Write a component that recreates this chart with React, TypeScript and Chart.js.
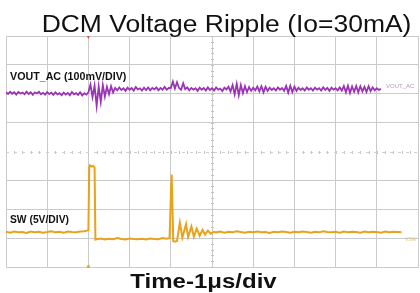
import React, { useEffect, useRef } from "react";
import { Chart, registerables } from "chart.js";

Chart.register(...registerables);

const TITLE = "DCM Voltage Ripple (Io=30mA)";
const X_CAPTION = "Time-1μs/div";
const VOUT_LABEL = "VOUT_AC (100mV/DIV)";
const SW_LABEL = "SW (5V/DIV)";
const VOUT_TAG = "VOUT_AC";
const SW_TAG = "VSW";

// time axis: 10 divisions (1 µs/div), vertical: 8 divisions
const X_MIN = 0;
const X_MAX = 10;
const Y_MIN = -4;
const Y_MAX = 4;

// VOUT_AC trace, one sample every 0.05 div, in divisions
const VOUT_STEP = 0.05;
const VOUT = [
  2.05, 1.99, 2.07, 2.0, 2.05, 1.97, 2.06, 2.01, 2.04, 1.98,
  2.07, 1.99, 2.05, 1.96, 2.05, 2.01, 2.07, 1.98, 2.03, 1.97,
  2.06, 1.99, 2.04, 1.96, 2.05, 1.98, 2.02, 1.95, 2.04, 1.97,
  2.03, 1.95, 2.06, 1.98, 2.02, 1.96, 2.05, 1.94, 2.02, 1.97,
  2.05, 2.32, 1.88, 2.28, 1.58, 2.25, 1.72, 2.3, 1.9, 2.24,
  1.98, 2.26, 2.04, 2.2, 2.12, 2.22, 2.13, 2.19, 2.1, 2.21,
  2.14, 2.2, 2.11, 2.23, 2.15, 2.19, 2.11, 2.21, 2.13, 2.22,
  2.12, 2.2, 2.15, 2.22, 2.12, 2.2, 2.14, 2.24, 2.14, 2.2,
  2.2, 2.42, 2.18, 2.4, 2.2, 2.14, 2.36, 2.16, 2.22, 2.12,
  2.2, 2.14, 2.19, 2.1, 2.21, 2.14, 2.2, 2.11, 2.22, 2.13,
  2.19, 2.11, 2.22, 2.14, 2.18, 2.09, 2.21, 2.15, 2.24, 2.08,
  2.3, 1.98, 2.34, 1.95, 2.3, 2.02, 2.26, 2.06, 2.23, 2.1,
  2.21, 2.12, 2.25, 2.08, 2.26, 2.05, 2.24, 2.1, 2.21, 2.13,
  2.19, 2.11, 2.22, 2.14, 2.2, 2.1, 2.27, 2.04, 2.28, 2.06,
  2.25, 2.1, 2.21, 2.13, 2.19, 2.11, 2.22, 2.14, 2.19, 2.11,
  2.21, 2.14, 2.19, 2.11, 2.22, 2.13, 2.2, 2.1, 2.21, 2.14,
  2.19, 2.12, 2.22, 2.11, 2.27, 2.05, 2.28, 2.03, 2.25, 2.07,
  2.27, 2.05, 2.26, 2.08, 2.24, 2.06, 2.26, 2.09, 2.22, 2.12,
  2.19, 2.13, 2.17,
];

// SW node trace (time in div, value in div)
const SW_T = [
  0, 0.1, 0.2, 0.3, 0.4, 0.5, 0.6, 0.7, 0.8, 0.9,
  1.0, 1.1, 1.2, 1.3, 1.4, 1.5, 1.6, 1.7, 1.8, 1.9,
  1.97, 2.0, 2.02, 2.04, 2.08, 2.12, 2.15, 2.17,
  2.2, 2.3, 2.4, 2.5, 2.6, 2.7, 2.8, 2.9, 3.0, 3.1,
  3.2, 3.3, 3.4, 3.5, 3.6, 3.7, 3.8, 3.9, 3.97,
  4.0, 4.02, 4.06, 4.1, 4.15, 4.22, 4.28, 4.37, 4.42, 4.5,
  4.56, 4.63, 4.7, 4.77, 4.83, 4.9, 4.97, 5.05,
  5.1, 5.2, 5.3, 5.4, 5.5, 5.6, 5.7, 5.8, 5.9, 6.0,
  6.1, 6.2, 6.3, 6.4, 6.5, 6.6, 6.7, 6.8, 6.9, 7.0,
  7.1, 7.2, 7.3, 7.4, 7.5, 7.6, 7.7, 7.8, 7.9, 8.0,
  8.1, 8.2, 8.3, 8.4, 8.5, 8.6, 8.7, 8.8, 8.9, 9.0,
  9.1, 9.2, 9.3, 9.4, 9.5, 9.6,
];
const SW_V = [
  -2.78, -2.81, -2.77, -2.8, -2.79, -2.82, -2.77, -2.8, -2.78, -2.81,
  -2.79, -2.76, -2.8, -2.78, -2.81, -2.77, -2.79, -2.8, -2.77, -2.76,
  -2.74, -2.72, -0.55, -0.48, -0.52, -0.5, -0.55, -3.05,
  -3.04, -3.01, -3.05, -3.02, -3.04, -3.0, -3.03, -3.05, -3.01, -3.03,
  -3.04, -3.02, -3.05, -3.01, -3.03, -3.04, -3.0, -3.02, -3.0,
  -1.6, -0.8, -3.1, -3.12, -3.1, -2.47, -2.98, -2.52, -2.96, -2.6,
  -2.95, -2.67, -2.92, -2.72, -2.88, -2.74, -2.85, -2.78,
  -2.8, -2.77, -2.81, -2.78, -2.8, -2.76, -2.79, -2.81, -2.78, -2.8,
  -2.77, -2.8, -2.79, -2.82, -2.78, -2.8, -2.77, -2.79, -2.81, -2.78,
  -2.8, -2.77, -2.79, -2.81, -2.78, -2.8, -2.76, -2.79, -2.8, -2.78,
  -2.81, -2.77, -2.8, -2.78, -2.79, -2.81, -2.77, -2.8, -2.78, -2.79,
  -2.81, -2.77, -2.8, -2.78, -2.79, -2.8,
];

const PURPLE = "#9a33b5";
const ORANGE = "#e8a21c";
const GRID = "#c9cbc9";

const overlay = {
  id: "scopeOverlay",
  beforeDatasetsDraw(chart: any) {
    const { ctx } = chart;
    const xs = chart.scales.x;
    const ys = chart.scales.y;
    const y0 = ys.getPixelForValue(0);
    const x5 = xs.getPixelForValue(5);
    ctx.save();
    ctx.strokeStyle = "#c2c4c2";
    ctx.lineWidth = 1;
    ctx.beginPath();
    for (let i = 0; i <= 50; i++) {
      const px = Math.round(xs.getPixelForValue(i * 0.2)) + 0.5;
      const len = 1.5;
      ctx.moveTo(px, Math.round(y0) + 0.5 - len);
      ctx.lineTo(px, Math.round(y0) + 0.5 + len);
    }
    for (let i = 0; i <= 40; i++) {
      const py = Math.round(ys.getPixelForValue(-4 + i * 0.2)) + 0.5;
      const len = 1.5;
      ctx.moveTo(Math.round(x5) + 0.5 - len, py);
      ctx.lineTo(Math.round(x5) + 0.5 + len, py);
    }
    ctx.stroke();
    ctx.setLineDash([3, 5]);
    ctx.strokeStyle = "#cfd1cf";
    ctx.beginPath();
    ctx.moveTo(chart.chartArea.left, Math.round(y0) + 0.5);
    ctx.lineTo(chart.chartArea.right, Math.round(y0) + 0.5);
    ctx.stroke();
    ctx.restore();
  },
  afterDraw(chart: any) {
    const { ctx, chartArea } = chart;
    const xs = chart.scales.x;
    ctx.save();
    ctx.fillStyle = "#111";
    ctx.textBaseline = "alphabetic";
    ctx.textAlign = "center";
    ctx.save();
    ctx.translate(226.5, 31.5);
    ctx.scale(1.15, 1);
    ctx.font = "23px 'Liberation Sans', Arial, sans-serif";
    ctx.fillText(TITLE, 0, 0);
    ctx.restore();
    ctx.save();
    ctx.translate(203.5, 288.3);
    ctx.scale(1.2, 1);
    ctx.font = "bold 20px 'Liberation Sans', Arial, sans-serif";
    ctx.fillText(X_CAPTION, 0, 0);
    ctx.restore();
    ctx.textAlign = "left";
    ctx.font = "bold 10.7px 'Liberation Sans', Arial, sans-serif";
    ctx.fillText(VOUT_LABEL, chartArea.left + 4, 80);
    ctx.font = "bold 10.3px 'Liberation Sans', Arial, sans-serif";
    ctx.fillText(SW_LABEL, chartArea.left + 4, 222.7);
    ctx.font = "6px 'Liberation Sans', Arial, sans-serif";
    ctx.fillStyle = "#b596c4";
    ctx.fillText(VOUT_TAG, 386, 87.5);
    ctx.font = "5px 'Liberation Sans', Arial, sans-serif";
    ctx.fillStyle = "#e6c27a";
    ctx.fillText(SW_TAG, 405, 240.5);
    const tx = xs.getPixelForValue(2);
    ctx.fillStyle = "#e0503a";
    ctx.beginPath();
    ctx.moveTo(tx - 1.5, chartArea.top);
    ctx.lineTo(tx + 1.5, chartArea.top);
    ctx.lineTo(tx, chartArea.top + 3);
    ctx.closePath();
    ctx.fill();
    ctx.fillStyle = ORANGE;
    ctx.beginPath();
    ctx.arc(tx, chartArea.bottom - 0.5, 1.5, 0, Math.PI * 2);
    ctx.fill();
    ctx.restore();
  },
};

export default function App() {
  const ref = useRef<HTMLCanvasElement | null>(null);
  useEffect(() => {
    if (!ref.current) return;
    const voutData = VOUT.map((v, i) => ({ x: i * VOUT_STEP, y: v }));
    const swData = SW_T.map((t, i) => ({ x: t, y: SW_V[i] }));
    const gridColor = (c: any) =>
      c.tick && c.tick.value === 0 && c.scale.axis === "y" ? "rgba(0,0,0,0)" : GRID;
    const chart = new Chart(ref.current, {
      type: "line",
      data: {
        datasets: [
          {
            data: voutData,
            borderColor: PURPLE,
            borderWidth: 1.8,
            pointRadius: 0,
            tension: 0,
          },
          {
            data: swData,
            borderColor: ORANGE,
            borderWidth: 2,
            pointRadius: 0,
            tension: 0,
          },
        ],
      },
      options: {
        animation: false,
        responsive: false,
        maintainAspectRatio: false,
        layout: { padding: { left: 6, right: 2, top: 36, bottom: 26 } },
        plugins: {
          legend: { display: false },
          tooltip: { enabled: false },
          title: { display: false },
        },
        scales: {
          x: {
            type: "linear",
            min: X_MIN,
            max: X_MAX,
            ticks: { display: false, stepSize: 1 },
            grid: { color: gridColor, drawTicks: false, lineWidth: 1 },
            border: { display: true, color: GRID },
          },
          y: {
            type: "linear",
            min: Y_MIN,
            max: Y_MAX,
            ticks: { display: false, stepSize: 1 },
            grid: { color: gridColor, drawTicks: false, lineWidth: 1 },
            border: { display: true, color: GRID },
          },
        },
      },
      plugins: [overlay],
    });
    return () => chart.destroy();
  }, []);
  return (
    <div style={{ position: "absolute", left: 0, top: 0, width: 420, height: 293 }}>
      <canvas ref={ref} width={420} height={293} style={{ display: "block" }} />
    </div>
  );
}
